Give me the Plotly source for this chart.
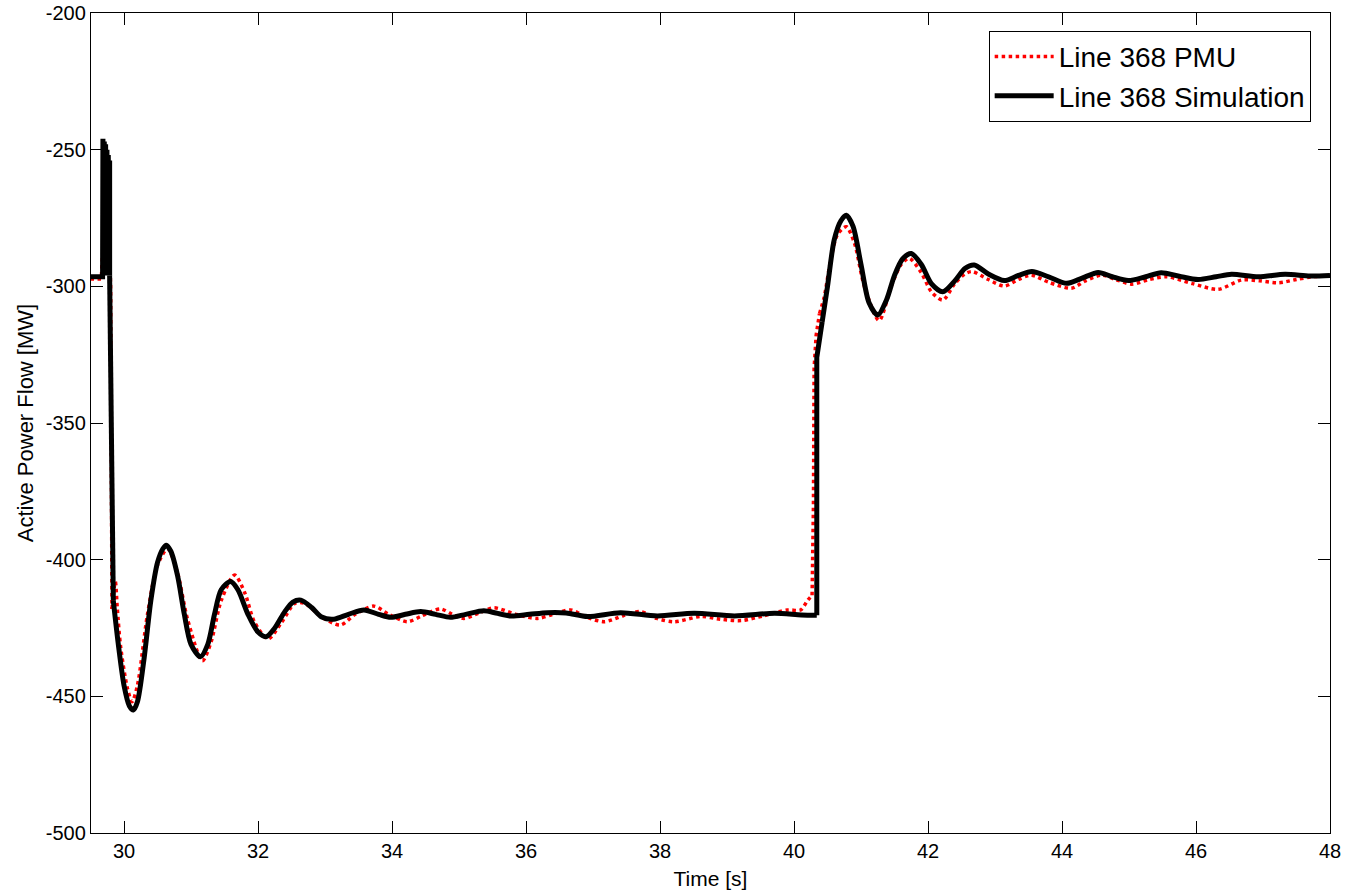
import plotly.graph_objects as go

# ---------------- data ----------------
# Simulation (black)
sim_t = [29.50, 29.68, 29.685, 29.695, 29.705, 29.715, 29.725, 29.735, 29.745, 29.755, 29.765, 29.775, 29.785, 29.785,
         29.84, 29.92, 30.00, 30.08, 30.14, 30.20, 30.30, 30.40, 30.50, 30.58, 30.63, 30.70, 30.80, 30.90, 31.00,
         31.14, 31.25, 31.35, 31.45, 31.59, 31.70, 31.85, 32.00, 32.12, 32.25, 32.40, 32.52, 32.64, 32.80, 32.95,
         33.13, 33.35, 33.58, 33.80, 33.98, 34.20, 34.43, 34.65, 34.87, 35.10, 35.37, 35.55, 35.77, 36.05, 36.32,
         36.60, 36.92, 37.41, 37.96, 38.51, 39.11, 39.71, 40.11, 40.34,
         40.34, 40.42,
         40.50, 40.60, 40.70, 40.78, 40.88, 41.00, 41.12, 41.25, 41.38, 41.50, 41.62, 41.75, 41.90, 42.05, 42.22,
         42.40, 42.55, 42.69, 42.90, 43.14, 43.35, 43.55, 43.80, 44.07, 44.30, 44.54, 44.75, 44.99, 45.25, 45.48,
         45.75, 46.03, 46.30, 46.53, 46.93, 47.33, 47.70, 48.00]
sim_p = [-296.5, -296.5, -246, -296, -247, -296, -248, -296, -250, -296, -252, -296, -254, -296,
         -415, -432, -446, -453.5, -455, -452, -436, -415, -401, -396, -394.7, -397, -406, -420, -431,
         -435.5, -431, -420, -411, -408, -411, -420, -426.5, -428.2, -425, -419, -415.5, -414.8, -417.5, -421,
         -421.8, -420, -418.4, -420, -421.1, -420, -419, -420, -421.1, -420, -418.7, -419.5, -420.6, -420, -419.4,
         -419.5, -420.8, -419.4, -420.6, -419.6, -420.6, -419.6, -420.2, -420.3,
         -326, -313,
         -300, -283, -276, -274, -278, -292, -306, -310.5, -305, -296, -290, -288, -292, -299, -302,
         -298, -293.5, -292.2, -295.5, -297.9, -296, -294.6, -296.5, -298.9, -297, -294.9, -296.5, -297.9, -296.5, -295,
         -296.3, -297.5, -296.5, -295.6, -296.5, -295.6, -296.2, -296.0]
# index ranges of the drawn pieces: (start, end, smooth)
sim_pieces = [(0, 14, False), (13, 15, False), (14, 68, True), (67, 70, False), (69, len(sim_t), True)]

# PMU measurement (red dotted)
pmu_t = [29.50, 29.66, 29.67, 29.69, 29.72, 29.76, 29.80, 29.81, 29.82,
         29.87, 29.90, 29.95, 30.05, 30.12, 30.20, 30.35, 30.50, 30.65, 30.80, 30.95, 31.17, 31.30, 31.45, 31.65,
         31.80, 31.95, 32.15, 32.35, 32.55, 32.70, 32.95, 33.23, 33.45, 33.73, 33.95, 34.23, 34.45, 34.72, 34.90,
         35.07, 35.30, 35.52, 35.85, 36.17, 36.40, 36.67, 36.90, 37.17, 37.45, 37.71, 37.95, 38.21, 38.61, 38.90,
         39.21, 39.55, 39.90, 40.10, 40.20, 40.27,
         40.29, 40.30, 40.33, 40.38,
         40.45, 40.55, 40.65, 40.78, 40.90, 41.05, 41.27, 41.45, 41.60, 41.72, 41.90, 42.05, 42.22, 42.40, 42.55,
         42.66, 42.90, 43.14, 43.35, 43.54, 43.80, 44.14, 44.35, 44.59, 44.80, 45.04, 45.30, 45.56, 45.95, 46.33,
         46.68, 46.95, 47.23, 47.50, 47.73, 48.00]
pmu_p = [-297.3, -297.3, -293, -285, -262, -270, -300, -350, -418,
         -408, -418, -432, -447, -452, -446, -420, -402, -396, -405, -422, -437, -430, -415, -405.6,
         -412, -423, -429, -423, -416, -416, -421, -423.9, -420, -417, -420, -422.7, -420.5, -418, -420,
         -421.5, -419.5, -417.6, -420, -421.5, -420, -418.4, -421, -422.7, -420.5, -419, -421.5, -422.7, -420.8, -421.8,
         -422.3, -420.5, -418.4, -418.4, -415, -413,
         -380, -330, -318, -310,
         -304, -290, -281, -278.2, -284, -300, -312.5, -300, -292, -289.8, -295, -302, -305, -299, -295.5,
         -294.6, -297.5, -299.9, -297.5, -295.9, -298.5, -300.7, -298, -295.9, -297.5, -299.2, -297.5, -296.5, -299, -301.1,
         -297.7, -298, -298.7, -297.5, -296.5, -296.3]
pmu_pieces = [(0, 9, False), (8, 60, True), (59, 64, False), (63, len(pmu_t), True)]

series_names = ["Line 368 PMU", "Line 368 Simulation"]
x_ticks = [30, 32, 34, 36, 38, 40, 42, 44, 46, 48]
x_tick_labels = ["30", "32", "34", "36", "38", "40", "42", "44", "46", "48"]
y_ticks = [-500, -450, -400, -350, -300, -250, -200]
y_tick_labels = ["-500", "-450", "-400", "-350", "-300", "-250", "-200"]

# ---------------- figure ----------------
fig = go.Figure()

def add_series(t, p, pieces, name, line):
    for k, (a, b, smooth) in enumerate(pieces):
        ln = dict(line, shape="spline", smoothing=0.8) if smooth else dict(line, shape="linear")
        fig.add_trace(go.Scatter(
            x=t[a:b], y=p[a:b], mode="lines", name=name,
            legendgroup=name, showlegend=(k == 0), line=ln, hoverinfo="skip"))

add_series(pmu_t, pmu_p, pmu_pieces, series_names[0], dict(color="#ff0000", width=3.5, dash="dot"))
add_series(sim_t, sim_p, sim_pieces, series_names[1], dict(color="#000000", width=5))

font_family = "Liberation Sans, Arial, sans-serif"

axis_common = dict(showline=True, linecolor="black", linewidth=1.3, mirror="ticks",
                   ticks="inside", ticklen=12, tickcolor="black", tickwidth=1,
                   showgrid=False, zeroline=False, automargin=False,
                   tickfont=dict(family=font_family, size=20, color="black"))

fig.update_xaxes(range=[29.507, 48], tickvals=x_ticks, ticktext=x_tick_labels,
                 title=dict(text="Time [s]", font=dict(family=font_family, size=21, color="black"), standoff=10),
                 **axis_common)
fig.update_yaxes(range=[-500, -200], tickvals=y_ticks, ticktext=y_tick_labels,
                 title=dict(text="Active Power Flow [MW]", font=dict(family=font_family, size=22, color="black"), standoff=6),
                 **axis_common)

fig.update_layout(
    width=1347, height=893,
    margin=dict(l=91, r=17, t=13, b=60, autoexpand=False),
    paper_bgcolor="white", plot_bgcolor="white",
    font=dict(family=font_family, color="black"),
    legend=dict(x=0.9844, y=0.9784, xanchor="right", yanchor="top",
                bgcolor="white", bordercolor="black", borderwidth=1,
                font=dict(family=font_family, size=28, color="black"),
                tracegroupgap=0, itemwidth=59),
)

# remove the default page margin so the figure sits at the window's top-left corner
fig.write_html("out.html", config={"displayModeBar": False},
               post_script="document.body.style.margin='0';")
